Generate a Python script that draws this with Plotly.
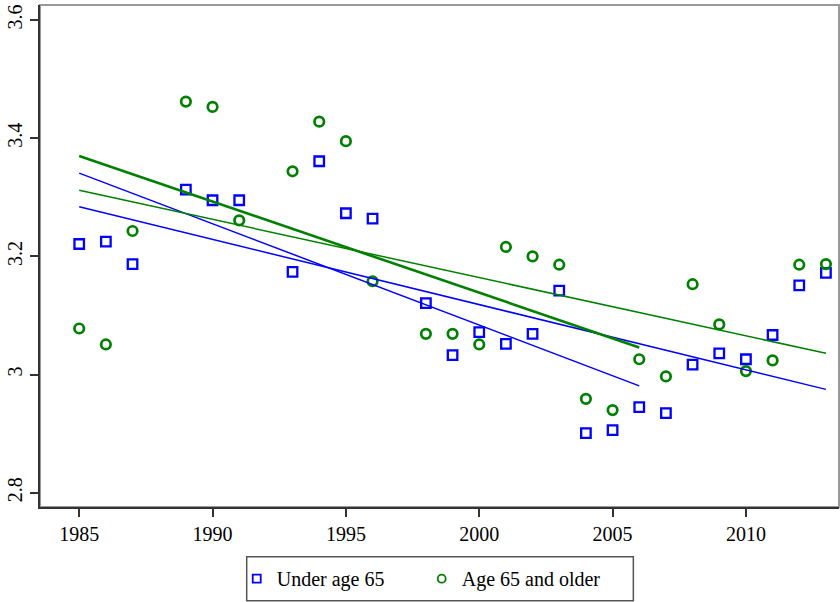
import plotly.graph_objects as go

years = [1985, 1986, 1987, 1989, 1990, 1991, 1993, 1994, 1995, 1996,
         1998, 1999, 2000, 2001, 2002, 2003, 2004, 2005, 2006, 2007,
         2008, 2009, 2010, 2011, 2012, 2013]
under65 = [3.221, 3.225, 3.187, 3.313, 3.295, 3.295, 3.174, 3.361, 3.273, 3.264,
           3.121, 3.033, 3.072, 3.052, 3.069, 3.142, 2.901, 2.906, 2.945, 2.935,
           3.017, 3.036, 3.026, 3.067, 3.151, 3.172]
age65plus = [3.078, 3.051, 3.243, 3.462, 3.453, 3.261, 3.344, 3.428, 3.395, 3.158,
             3.069, 3.069, 3.051, 3.216, 3.200, 3.186, 2.959, 2.940, 3.026, 2.997,
             3.153, 3.085, 3.006, 3.024, 3.186, 3.187]

# fitted trend lines: (x range, y at ends)
trend_full_x = [1985, 2013]
trend_short_x = [1985, 2006]
under65_full = [3.284, 2.975]
under65_short = [3.341, 2.981]
age65_full = [3.312, 3.036]
age65_short = [3.370, 3.046]

xticks = [1985, 1990, 1995, 2000, 2005, 2010]
yticks = [2.8, 3.0, 3.2, 3.4, 3.6]
yticklabels = ["2.8", "3", "3.2", "3.4", "3.6"]

BLUE = "#0000ff"
GREEN = "#008000"
FONT = "Liberation Serif"

fig = go.Figure()
fig.add_trace(go.Scatter(x=years, y=under65, mode="markers", showlegend=False,
                         marker=dict(symbol="square-open", size=9.5, color=BLUE,
                                     line=dict(width=2.3, color=BLUE))))
fig.add_trace(go.Scatter(x=years, y=age65plus, mode="markers", showlegend=False,
                         marker=dict(symbol="circle-open", size=9.5, color=GREEN,
                                     line=dict(width=2.7, color=GREEN))))
fig.add_trace(go.Scatter(x=trend_full_x, y=under65_full, mode="lines", showlegend=False,
                         line=dict(color=BLUE, width=1.5)))
fig.add_trace(go.Scatter(x=trend_short_x, y=under65_short, mode="lines", showlegend=False,
                         line=dict(color=BLUE, width=1.5)))
fig.add_trace(go.Scatter(x=trend_full_x, y=age65_full, mode="lines", showlegend=False,
                         line=dict(color=GREEN, width=1.5)))
fig.add_trace(go.Scatter(x=trend_short_x, y=age65_short, mode="lines", showlegend=False,
                         line=dict(color=GREEN, width=2.6)))
# legend entries
fig.add_trace(go.Scatter(x=[None], y=[None], mode="markers", name="Under age 65",
                         marker=dict(symbol="square-open", size=8, color=BLUE,
                                     line=dict(width=1.8, color=BLUE))))
fig.add_trace(go.Scatter(x=[None], y=[None], mode="markers", name="Age 65 and older",
                         marker=dict(symbol="circle-open", size=8, color=GREEN,
                                     line=dict(width=1.8, color=GREEN))))

fig.update_layout(
    width=840, height=602,
    margin=dict(l=40, r=1, t=5, b=95),
    paper_bgcolor="white", plot_bgcolor="white",
    font=dict(family=FONT, size=20, color="black"),
    xaxis=dict(range=[1983.53, 2013.49], tickvals=xticks, showgrid=False, zeroline=False,
               showline=True, linecolor="#333333", linewidth=2,
               ticks="outside", ticklen=8, tickwidth=1.5, tickcolor="#333333",
               tickfont=dict(family=FONT, size=20)),
    yaxis=dict(range=[2.776, 3.6254], tickvals=yticks, ticktext=yticklabels,
               tickangle=-90, showgrid=False, zeroline=False,
               showline=True, linecolor="#333333", linewidth=2,
               ticks="outside", ticklen=8, tickwidth=1.5, tickcolor="#333333",
               tickfont=dict(family=FONT, size=20)),
    legend=dict(orientation="h", x=0.2462, xanchor="left", y=-0.1428, yanchor="middle",
                borderwidth=0, bgcolor="rgba(0,0,0,0)",
                font=dict(family=FONT, size=20), entrywidth=140, entrywidthmode="pixels"),
    shapes=[dict(type="rect", xref="paper", yref="paper", x0=0, x1=1, y0=0, y1=1,
                 line=dict(color="#999999", width=2), layer="below"),
            dict(type="rect", xref="paper", yref="paper", x0=0.2587, x1=0.7426,
                 y0=-0.1867, y1=-0.099, line=dict(color="#555555", width=1.5),
                 fillcolor="rgba(0,0,0,0)")],
)

fig.write_html("out.html")
